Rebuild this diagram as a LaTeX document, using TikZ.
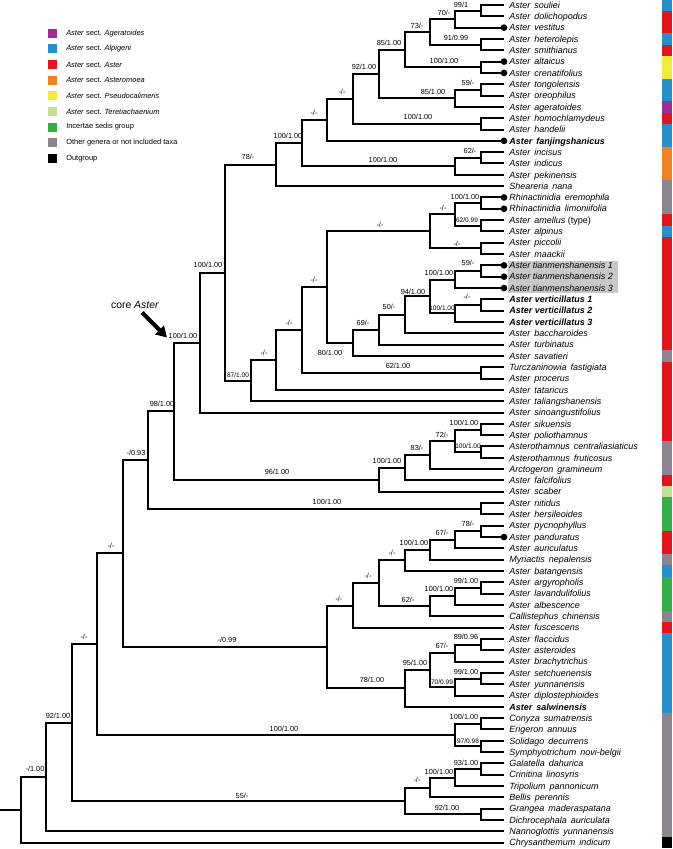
\documentclass[tikz,border=0pt]{standalone}
\usepackage{fontspec}
\setmainfont{Liberation Sans}
\usetikzlibrary{arrows.meta}
\definecolor{cpur}{RGB}{156,45,145}
\definecolor{cblu}{RGB}{38,143,204}
\definecolor{cred}{RGB}{228,20,30}
\definecolor{cora}{RGB}{240,130,35}
\definecolor{cyel}{RGB}{242,234,60}
\definecolor{clgr}{RGB}{194,221,150}
\definecolor{cgrn}{RGB}{52,174,74}
\definecolor{cgry}{RGB}{140,132,142}
\definecolor{chl}{RGB}{200,200,200}
\newcommand{\gs}{\hspace{0.45em}}
\begin{document}
\begin{tikzpicture}[x=0.75pt,y=-0.75pt,
 br/.style={line width=1.5pt},
 tip/.style={anchor=west, inner xsep=3.75pt, inner ysep=0pt, text height=5.2pt, text depth=0.4pt, font=\fontsize{6.75pt}{7pt}\selectfont\itshape},
 btip/.style={tip, font=\fontsize{6.75pt}{7pt}\selectfont\bfseries\itshape},
 bs/.style={inner sep=0pt, font=\fontsize{5.5pt}{6pt}\selectfont},
 bss/.style={inner sep=0pt, font=\fontsize{4.9pt}{5pt}\selectfont},
 dot/.style={circle, fill=black, inner sep=0pt, minimum size=5pt},
 sq/.style={inner sep=0pt, minimum size=6.75pt},
 leg/.style={anchor=west, inner sep=0pt, font=\fontsize{5.6pt}{6pt}\selectfont}]
\useasboundingbox (0,0) rectangle (672,849);

% legend
\node[sq, fill=cpur] (k1) at (52.5,33.3) {};
\node[leg] (k1t) at (66,33.3) {\textit{Aster} sect. \textit{Ageratoides}};
\node[sq, fill=cblu] (k2) at (52.5,48.9) {};
\node[leg] (k2t) at (66,48.9) {\textit{Aster} sect. \textit{Alpigeni}};
\node[sq, fill=cred] (k3) at (52.5,64.5) {};
\node[leg] (k3t) at (66,64.5) {\textit{Aster} sect. \textit{Aster}};
\node[sq, fill=cora] (k4) at (52.5,80.2) {};
\node[leg] (k4t) at (66,80.2) {\textit{Aster} sect. \textit{Asteromoea}};
\node[sq, fill=cyel] (k5) at (52.5,95.8) {};
\node[leg] (k5t) at (66,95.8) {\textit{Aster} sect. \textit{Pseudocalimeris}};
\node[sq, fill=clgr] (k6) at (52.5,111.4) {};
\node[leg] (k6t) at (66,111.4) {\textit{Aster} sect. \textit{Teretiachaenium}};
\node[sq, fill=cgrn] (k7) at (52.5,127.0) {};
\node[leg] (k7t) at (66,127.0) {Incertae sedis group};
\node[sq, fill=cgry] (k8) at (52.5,142.6) {};
\node[leg] (k8t) at (66,142.6) {Other genera or not included taxa};
\node[sq, fill=black] (k9) at (52.5,158.3) {};
\node[leg] (k9t) at (66,158.3) {Outgroup};

% colour bar
\foreach \a/\b/\c in {0/0/cblu,1/2/cred,3/3/cblu,4/4/cred,5/6/cyel,7/8/cblu,9/9/cpur,10/10/cred,11/12/cblu,13/15/cora,16/18/cgry,19/19/cred,20/20/cblu,21/30/cred,31/31/cgry,32/38/cred,39/41/cgry,42/42/cred,43/43/clgr,44/46/cgrn,47/48/cred,49/49/cgry,50/50/cblu,51/53/cgrn,54/54/cgry,55/55/cred,56/62/cblu,63/73/cgry,74/74/black}
  \fill[\c] (662,{-0.66+11.32*\a}) rectangle (672,{-0.66+11.32*(\b+1)});

% highlight
\fill[chl] (508,260.5) rectangle (618,293);

% tips
\node[tip] (t0) at (504,5.00) {Aster\gs souliei};
\node[tip] (t1) at (504,16.32) {Aster\gs dolichopodus};
\node[tip] (t2) at (504,27.64) {Aster\gs vestitus};
\node[tip] (t3) at (504,38.96) {Aster\gs heterolepis};
\node[tip] (t4) at (504,50.28) {Aster\gs smithianus};
\node[tip] (t5) at (504,61.60) {Aster\gs altaicus};
\node[tip] (t6) at (504,72.92) {Aster\gs crenatifolius};
\node[tip] (t7) at (504,84.24) {Aster\gs tongolensis};
\node[tip] (t8) at (504,95.56) {Aster\gs oreophilus};
\node[tip] (t9) at (504,106.88) {Aster\gs ageratoides};
\node[tip] (t10) at (504,118.20) {Aster\gs homochlamydeus};
\node[tip] (t11) at (504,129.52) {Aster\gs handelii};
\node[btip] (t12) at (504,140.84) {Aster\gs fanjingshanicus};
\node[tip] (t13) at (504,152.16) {Aster\gs incisus};
\node[tip] (t14) at (504,163.48) {Aster\gs indicus};
\node[tip] (t15) at (504,174.80) {Aster\gs pekinensis};
\node[tip] (t16) at (504,186.12) {Sheareria\gs nana};
\node[tip] (t17) at (504,197.44) {Rhinactinidia\gs eremophila};
\node[tip] (t18) at (504,208.76) {Rhinactinidia\gs limoniifolia};
\node[tip] (t19) at (504,220.08) {Aster\gs amellus \textup{(type)}};
\node[tip] (t20) at (504,231.40) {Aster\gs alpinus};
\node[tip] (t21) at (504,242.72) {Aster\gs piccolii};
\node[tip] (t22) at (504,254.04) {Aster\gs maackii};
\node[tip] (t23) at (504,265.36) {Aster tianmenshanensis 1};
\node[tip] (t24) at (504,276.68) {Aster tianmenshanensis 2};
\node[tip] (t25) at (504,288.00) {Aster tianmenshanensis 3};
\node[btip] (t26) at (504,299.32) {Aster verticillatus 1};
\node[btip] (t27) at (504,310.64) {Aster verticillatus 2};
\node[btip] (t28) at (504,321.96) {Aster verticillatus 3};
\node[tip] (t29) at (504,333.28) {Aster\gs baccharoides};
\node[tip] (t30) at (504,344.60) {Aster\gs turbinatus};
\node[tip] (t31) at (504,355.92) {Aster\gs savatieri};
\node[tip] (t32) at (504,367.24) {Turczaninowia\gs fastigiata};
\node[tip] (t33) at (504,378.56) {Aster\gs procerus};
\node[tip] (t34) at (504,389.88) {Aster\gs tataricus};
\node[tip] (t35) at (504,401.20) {Aster\gs taliangshanensis};
\node[tip] (t36) at (504,412.52) {Aster\gs sinoangustifolius};
\node[tip] (t37) at (504,423.84) {Aster\gs sikuensis};
\node[tip] (t38) at (504,435.16) {Aster\gs poliothamnus};
\node[tip] (t39) at (504,446.48) {Asterothamnus\gs centraliasiaticus};
\node[tip] (t40) at (504,457.80) {Asterothamnus\gs fruticosus};
\node[tip] (t41) at (504,469.12) {Arctogeron\gs gramineum};
\node[tip] (t42) at (504,480.44) {Aster\gs falcifolius};
\node[tip] (t43) at (504,491.76) {Aster\gs scaber};
\node[tip] (t44) at (504,503.08) {Aster\gs nitidus};
\node[tip] (t45) at (504,514.40) {Aster\gs hersileoides};
\node[tip] (t46) at (504,525.72) {Aster\gs pycnophyllus};
\node[tip] (t47) at (504,537.04) {Aster\gs panduratus};
\node[tip] (t48) at (504,548.36) {Aster\gs auriculatus};
\node[tip] (t49) at (504,559.68) {Myriactis\gs nepalensis};
\node[tip] (t50) at (504,571.00) {Aster\gs batangensis};
\node[tip] (t51) at (504,582.32) {Aster\gs argyropholis};
\node[tip] (t52) at (504,593.64) {Aster\gs lavandulifolius};
\node[tip] (t53) at (504,604.96) {Aster\gs albescence};
\node[tip] (t54) at (504,616.28) {Callistephus\gs chinensis};
\node[tip] (t55) at (504,627.60) {Aster\gs fuscescens};
\node[tip] (t56) at (504,638.92) {Aster\gs flaccidus};
\node[tip] (t57) at (504,650.24) {Aster\gs asteroides};
\node[tip] (t58) at (504,661.56) {Aster\gs brachytrichus};
\node[tip] (t59) at (504,672.88) {Aster\gs setchuenensis};
\node[tip] (t60) at (504,684.20) {Aster\gs yunnanensis};
\node[tip] (t61) at (504,695.52) {Aster\gs diplostephioides};
\node[btip] (t62) at (504,706.84) {Aster\gs salwinensis};
\node[tip] (t63) at (504,718.16) {Conyza\gs sumatrensis};
\node[tip] (t64) at (504,729.48) {Erigeron\gs annuus};
\node[tip] (t65) at (504,740.80) {Solidago\gs decurrens};
\node[tip] (t66) at (504,752.12) {Symphyotrichum\gs novi-belgii};
\node[tip] (t67) at (504,763.44) {Galatella\gs dahurica};
\node[tip] (t68) at (504,774.76) {Crinitina\gs linosyris};
\node[tip] (t69) at (504,786.08) {Tripolium\gs pannonicum};
\node[tip] (t70) at (504,797.40) {Bellis\gs perennis};
\node[tip] (t71) at (504,808.72) {Grangea\gs maderaspatana};
\node[tip] (t72) at (504,820.04) {Dichrocephala\gs auriculata};
\node[tip] (t73) at (504,831.36) {Nannoglottis\gs yunnanensis};
\node[tip] (t74) at (504,842.68) {Chrysanthemum\gs indicum};

% internal nodes
\coordinate (A1) at (481,10.66);
\coordinate (A2) at (455,19.15);
\coordinate (A3) at (481,44.62);
\coordinate (A4) at (430,31.89);
\coordinate (A5) at (481,67.26);
\coordinate (A6) at (405,49.57);
\coordinate (A7) at (481,89.90);
\coordinate (A8) at (455,98.39);
\coordinate (A9) at (379,73.98);
\coordinate (A10) at (481,123.86);
\coordinate (A11) at (353,98.92);
\coordinate (A12) at (327,119.88);
\coordinate (A13) at (481,157.82);
\coordinate (A14) at (455,166.31);
\coordinate (A15) at (302,143.10);
\coordinate (A16) at (276,164.61);
\coordinate (B1) at (481,203.10);
\coordinate (B2) at (481,225.74);
\coordinate (B3) at (455,214.42);
\coordinate (B4) at (481,248.38);
\coordinate (B5) at (430,231.40);
\coordinate (B6) at (481,271.02);
\coordinate (B7) at (455,279.51);
\coordinate (B8) at (481,304.98);
\coordinate (B9) at (455,313.47);
\coordinate (B10) at (430,296.49);
\coordinate (B11) at (405,314.89);
\coordinate (B12) at (379,329.75);
\coordinate (B13) at (353,342.84);
\coordinate (B14) at (327,287.12);
\coordinate (B15) at (481,372.90);
\coordinate (B16) at (302,330.01);
\coordinate (B17) at (276,359.95);
\coordinate (B18) at (251,380.58);
\coordinate (B19) at (225,272.60);
\coordinate (B20) at (200,342.56);
\coordinate (C1) at (481,429.50);
\coordinate (C2) at (481,452.14);
\coordinate (C3) at (455,440.82);
\coordinate (C4) at (430,454.97);
\coordinate (C5) at (405,467.70);
\coordinate (C6) at (379,479.73);
\coordinate (C7) at (174,411.15);
\coordinate (C8) at (481,508.74);
\coordinate (C9) at (148,459.95);
\coordinate (D1) at (481,531.38);
\coordinate (D2) at (455,539.87);
\coordinate (D3) at (430,549.78);
\coordinate (D4) at (405,560.39);
\coordinate (D5) at (481,587.98);
\coordinate (D6) at (455,596.47);
\coordinate (D7) at (430,606.38);
\coordinate (D8) at (379,583.39);
\coordinate (D9) at (353,605.50);
\coordinate (D10) at (481,644.58);
\coordinate (D11) at (455,653.07);
\coordinate (D12) at (481,678.54);
\coordinate (D13) at (455,687.03);
\coordinate (D14) at (430,670.05);
\coordinate (D15) at (405,688.45);
\coordinate (D16) at (327,646.98);
\coordinate (D17) at (123,553.47);
\coordinate (E1) at (481,723.82);
\coordinate (E2) at (481,746.46);
\coordinate (E3) at (455,735.14);
\coordinate (E4) at (97,644.30);
\coordinate (E5) at (481,769.10);
\coordinate (E6) at (455,777.59);
\coordinate (E7) at (430,787.50);
\coordinate (E8) at (481,814.38);
\coordinate (E9) at (405,800.94);
\coordinate (E10) at (72,722.62);
\coordinate (E11) at (46,776.99);
\coordinate (E12) at (21,809.84);
\coordinate (root) at (0,809.84);

% branches
\begin{scope}[br]
\draw (t0.west) -| (A1) |- (t1.west);
\draw (A1) -| (A2) |- (t2.west);
\draw (t3.west) -| (A3) |- (t4.west);
\draw (A2) -| (A4) |- (A3);
\draw (t5.west) -| (A5) |- (t6.west);
\draw (A4) -| (A6) |- (A5);
\draw (t7.west) -| (A7) |- (t8.west);
\draw (A7) -| (A8) |- (t9.west);
\draw (A6) -| (A9) |- (A8);
\draw (t10.west) -| (A10) |- (t11.west);
\draw (A9) -| (A11) |- (A10);
\draw (A11) -| (A12) |- (t12.west);
\draw (t13.west) -| (A13) |- (t14.west);
\draw (A13) -| (A14) |- (t15.west);
\draw (A12) -| (A15) |- (A14);
\draw (A15) -| (A16) |- (t16.west);
\draw (t17.west) -| (B1) |- (t18.west);
\draw (t19.west) -| (B2) |- (t20.west);
\draw (B1) -| (B3) |- (B2);
\draw (t21.west) -| (B4) |- (t22.west);
\draw (B3) -| (B5) |- (B4);
\draw (t23.west) -| (B6) |- (t24.west);
\draw (B6) -| (B7) |- (t25.west);
\draw (t26.west) -| (B8) |- (t27.west);
\draw (B8) -| (B9) |- (t28.west);
\draw (B7) -| (B10) |- (B9);
\draw (B10) -| (B11) |- (t29.west);
\draw (B11) -| (B12) |- (t30.west);
\draw (B12) -| (B13) |- (t31.west);
\draw (B5) -| (B14) |- (B13);
\draw (t32.west) -| (B15) |- (t33.west);
\draw (B14) -| (B16) |- (B15);
\draw (B16) -| (B17) |- (t34.west);
\draw (B17) -| (B18) |- (t35.west);
\draw (A16) -| (B19) |- (B18);
\draw (B19) -| (B20) |- (t36.west);
\draw (t37.west) -| (C1) |- (t38.west);
\draw (t39.west) -| (C2) |- (t40.west);
\draw (C1) -| (C3) |- (C2);
\draw (C3) -| (C4) |- (t41.west);
\draw (C4) -| (C5) |- (t42.west);
\draw (C5) -| (C6) |- (t43.west);
\draw (B20) -| (C7) |- (C6);
\draw (t44.west) -| (C8) |- (t45.west);
\draw (C7) -| (C9) |- (C8);
\draw (t46.west) -| (D1) |- (t47.west);
\draw (D1) -| (D2) |- (t48.west);
\draw (D2) -| (D3) |- (t49.west);
\draw (D3) -| (D4) |- (t50.west);
\draw (t51.west) -| (D5) |- (t52.west);
\draw (D5) -| (D6) |- (t53.west);
\draw (D6) -| (D7) |- (t54.west);
\draw (D4) -| (D8) |- (D7);
\draw (D8) -| (D9) |- (t55.west);
\draw (t56.west) -| (D10) |- (t57.west);
\draw (D10) -| (D11) |- (t58.west);
\draw (t59.west) -| (D12) |- (t60.west);
\draw (D12) -| (D13) |- (t61.west);
\draw (D11) -| (D14) |- (D13);
\draw (D14) -| (D15) |- (t62.west);
\draw (D9) -| (D16) |- (D15);
\draw (C9) -| (D17) |- (D16);
\draw (t63.west) -| (E1) |- (t64.west);
\draw (t65.west) -| (E2) |- (t66.west);
\draw (E1) -| (E3) |- (E2);
\draw (D17) -| (E4) |- (E3);
\draw (t67.west) -| (E5) |- (t68.west);
\draw (E5) -| (E6) |- (t69.west);
\draw (E6) -| (E7) |- (t70.west);
\draw (t71.west) -| (E8) |- (t72.west);
\draw (E7) -| (E9) |- (E8);
\draw (E4) -| (E10) |- (E9);
\draw (E10) -| (E11) |- (t73.west);
\draw (E11) -| (E12) |- (t74.west);
\draw (root) -- (E12);
\end{scope}

% dots
\foreach \k in {2,5,6,12,17,18,23,24,25,47}
  \node[dot] (dot\k) at (t\k.west) {};

% support values
\node[bs] (lA1) at (461,4.5) {99/1};
\node[bs] (lA2) at (444,12.7) {70/-};
\node[bs] (lA3) at (456,38) {91/0.99};
\node[bs] (lA4) at (417,25.4) {73/-};
\node[bs] (lA5) at (444,61) {100/1.00};
\node[bs] (lA6) at (389,43) {85/1.00};
\node[bs] (lA7) at (468,83.3) {59/-};
\node[bs] (lA8) at (433,91.7) {85/1.00};
\node[bs] (lA9) at (364,67) {92/1.00};
\node[bs] (lA10) at (418,117) {100/1.00};
\node[bs] (lA11) at (342,91.5) {-/-};
\node[bs] (lA12) at (314,113) {-/-};
\node[bs] (lA13) at (470,151) {62/-};
\node[bs] (lA14) at (383,159.5) {100/1.00};
\node[bs] (lA15) at (288,136) {100/1.00};
\node[bs] (lA16) at (248,157) {78/-};
\node[bs] (lB1) at (465,197) {100/1.00};
\node[bss] (lB2) at (467,220.5) {62/0.99};
\node[bs] (lB3) at (443,208) {-/-};
\node[bs] (lB4) at (457,244) {-/-};
\node[bs] (lB5) at (380,225) {-/-};
\node[bs] (lB6) at (468,263) {59/-};
\node[bs] (lB7) at (439,273) {100/1.00};
\node[bs] (lB8) at (467,297) {-/-};
\node[bss] (lB9) at (442,308) {100/1.00};
\node[bs] (lB10) at (413,292) {94/1.00};
\node[bs] (lB11) at (389,307) {50/-};
\node[bs] (lB12) at (363,323) {69/-};
\node[bs] (lB13) at (330,353) {80/1.00};
\node[bs] (lB14) at (314,280) {-/-};
\node[bs] (lB15) at (398,366) {62/1.00};
\node[bs] (lB16) at (289,323) {-/-};
\node[bs] (lB17) at (264,353) {-/-};
\node[bss] (lB18) at (238,375) {87/1.00};
\node[bs] (lB19) at (208,265) {100/1.00};
\node[bs] (lB20) at (183,335.5) {100/1.00};
\node[bs] (lC1) at (464,423) {100/1.00};
\node[bss] (lC2) at (468,446) {100/1.00};
\node[bs] (lC3) at (442,435) {72/-};
\node[bs] (lC4) at (417,448) {83/-};
\node[bs] (lC5) at (387,461) {100/1.00};
\node[bs] (lC6) at (277,472) {96/1.00};
\node[bs] (lC7) at (162,404) {98/1.00};
\node[bs] (lC8) at (327,501.5) {100/1.00};
\node[bs] (lC9) at (136,453) {-/0.93};
\node[bs] (lD1) at (468,524) {78/-};
\node[bs] (lD2) at (442,533) {67/-};
\node[bs] (lD3) at (414,543) {100/1.00};
\node[bs] (lD4) at (392,553) {-/-};
\node[bs] (lD5) at (466,581) {99/1.00};
\node[bs] (lD6) at (439,589) {100/1.00};
\node[bs] (lD7) at (408,600) {62/-};
\node[bs] (lD8) at (368,576) {-/-};
\node[bs] (lD9) at (339,599) {-/-};
\node[bs] (lD10) at (466,637) {89/0.96};
\node[bs] (lD11) at (442,646) {67/-};
\node[bs] (lD12) at (466,672) {99/1.00};
\node[bss] (lD13) at (442,682) {70/0.99};
\node[bs] (lD14) at (415,663) {95/1.00};
\node[bs] (lD15) at (372,680) {78/1.00};
\node[bs] (lD16) at (227,640) {-/0.99};
\node[bs] (lD17) at (111,546) {-/-};
\node[bs] (lE1) at (464,717) {100/1.00};
\node[bss] (lE2) at (468,741) {97/0.98};
\node[bs] (lE3) at (284,729) {100/1.00};
\node[bs] (lE4) at (84,637) {-/-};
\node[bs] (lE5) at (466,763) {93/1.00};
\node[bs] (lE6) at (439,772) {100/1.00};
\node[bs] (lE7) at (417,780) {-/-};
\node[bs] (lE8) at (447,808) {92/1.00};
\node[bs] (lE9) at (242,796) {55/-};
\node[bs] (lE10) at (58,716) {92/1.00};
\node[bs] (lE11) at (35,769) {-/1.00};

% core Aster
\node[inner sep=0pt, font=\fontsize{7.8pt}{8pt}\selectfont] (core) at (135,305) {core \textit{Aster}};
\coordinate (arrS) at (142,312.5);
\coordinate (arrE) at (167,337.5);
\draw[line width=3pt, -{Triangle[length=8pt,width=9pt]}] (arrS) -- (arrE);
\end{tikzpicture}
\end{document}
